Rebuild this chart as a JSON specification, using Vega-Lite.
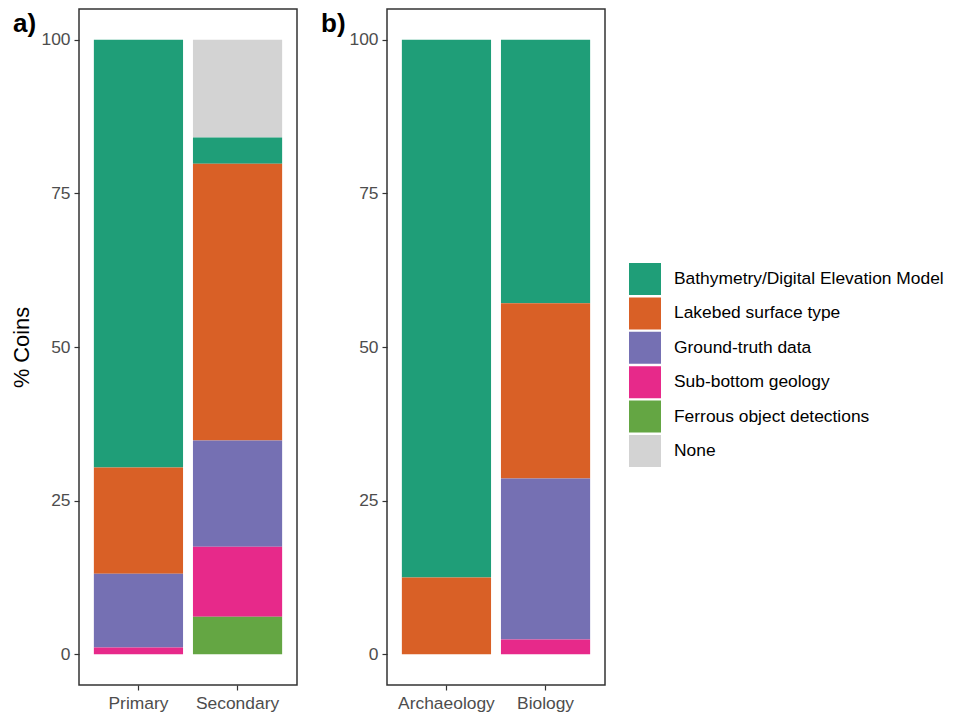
{
  "$schema": "https://vega.github.io/schema/vega-lite/v6.json",
  "background": "white",
  "padding": {"left": 11, "top": 8, "right": 0, "bottom": 0},
  "config": {
    "font": "Liberation Sans",
    "view": {"stroke": "#333333", "strokeWidth": 1.5},
    "axis": {
      "grid": false,
      "domain": false,
      "tickColor": "#333333",
      "tickSize": 5,
      "tickWidth": 1.2,
      "labelColor": "#4D4D4D",
      "labelFontSize": 17.4,
      "labelFont": "Liberation Sans",
      "labelPadding": 4
    },
    "title": {
      "anchor": "start",
      "frame": "group",
      "orient": "top",
      "baseline": "top",
      "offset": 0,
      "dx": -66,
      "dy": 32,
      "fontSize": 26,
      "fontWeight": "bold",
      "color": "black",
      "font": "Liberation Sans"
    }
  },
  "datasets": {
    "byPriority": [
      {"use": "Primary", "layer": "Bathymetry/Digital Elevation Model", "percent": 69.6},
      {"use": "Primary", "layer": "Lakebed surface type", "percent": 17.3},
      {"use": "Primary", "layer": "Ground-truth data", "percent": 12.0},
      {"use": "Primary", "layer": "Sub-bottom geology", "percent": 1.1},
      {"use": "Secondary", "layer": "None", "percent": 15.9},
      {"use": "Secondary", "layer": "Bathymetry/Digital Elevation Model", "percent": 4.3},
      {"use": "Secondary", "layer": "Lakebed surface type", "percent": 45.0},
      {"use": "Secondary", "layer": "Ground-truth data", "percent": 17.3},
      {"use": "Secondary", "layer": "Sub-bottom geology", "percent": 11.4},
      {"use": "Secondary", "layer": "Ferrous object detections", "percent": 6.1}
    ],
    "byDiscipline": [
      {"use": "Archaeology", "layer": "Bathymetry/Digital Elevation Model", "percent": 87.5},
      {"use": "Archaeology", "layer": "Lakebed surface type", "percent": 12.5},
      {"use": "Biology", "layer": "Bathymetry/Digital Elevation Model", "percent": 42.9},
      {"use": "Biology", "layer": "Lakebed surface type", "percent": 28.5},
      {"use": "Biology", "layer": "Ground-truth data", "percent": 26.2},
      {"use": "Biology", "layer": "Sub-bottom geology", "percent": 2.4}
    ]
  },
  "bounds": "flush",
  "spacing": 90,
  "resolve": {"scale": {"color": "shared", "x": "independent", "y": "independent"}},
  "hconcat": [
    {
      "width": 218,
      "height": 676,
      "title": {"text": "a)"},
      "data": {"name": "byPriority"},
      "transform": [
        {"calculate": "indexof(['None', 'Bathymetry/Digital Elevation Model', 'Lakebed surface type', 'Ground-truth data', 'Sub-bottom geology', 'Ferrous object detections'], datum.layer)", "as": "stackRank"}
      ],
      "mark": {"type": "bar"},
      "encoding": {
        "x": {
          "field": "use",
          "type": "nominal",
          "sort": ["Primary", "Secondary"],
          "scale": {"paddingInner": 0.1, "paddingOuter": 0.15},
          "axis": {"title": null, "labelAngle": 0}
        },
        "y": {
          "field": "percent",
          "type": "quantitative",
          "stack": "zero",
          "scale": {"domain": [-5, 105], "nice": false},
          "axis": {
            "title": "% Coins",
            "values": [0, 25, 50, 75, 100],
            "titleFontSize": 21.8,
            "titleFontWeight": "normal",
            "titleColor": "black",
            "titleFont": "Liberation Sans",
            "titlePadding": 7
          }
        },
        "order": {"field": "stackRank", "type": "quantitative", "sort": "descending"},
        "color": {
          "field": "layer",
          "type": "nominal",
          "sort": ["Bathymetry/Digital Elevation Model", "Lakebed surface type", "Ground-truth data", "Sub-bottom geology", "Ferrous object detections", "None"],
          "scale": {
            "domain": ["Bathymetry/Digital Elevation Model", "Lakebed surface type", "Ground-truth data", "Sub-bottom geology", "Ferrous object detections", "None"],
            "range": ["#1F9E78", "#D96026", "#7570B3", "#E7298A", "#64A643", "#D3D3D3"]
          },
          "legend": {
            "title": null,
            "orient": "none",
            "legendX": 550,
            "legendY": 254,
            "padding": 0,
            "symbolType": "square",
            "symbolSize": 1024,
            "symbolStrokeWidth": 0,
            "symbolOpacity": 1,
            "labelFontSize": 17.4,
            "labelFont": "Liberation Sans",
            "labelColor": "black",
            "labelOffset": 13,
            "labelLimit": 400,
            "rowPadding": 2.4
          }
        }
      }
    },
    {
      "width": 218,
      "height": 676,
      "title": {"text": "b)"},
      "data": {"name": "byDiscipline"},
      "transform": [
        {"calculate": "indexof(['None', 'Bathymetry/Digital Elevation Model', 'Lakebed surface type', 'Ground-truth data', 'Sub-bottom geology', 'Ferrous object detections'], datum.layer)", "as": "stackRank"}
      ],
      "mark": {"type": "bar"},
      "encoding": {
        "x": {
          "field": "use",
          "type": "nominal",
          "sort": ["Archaeology", "Biology"],
          "scale": {"paddingInner": 0.1, "paddingOuter": 0.15},
          "axis": {"title": null, "labelAngle": 0}
        },
        "y": {
          "field": "percent",
          "type": "quantitative",
          "stack": "zero",
          "scale": {"domain": [-5, 105], "nice": false},
          "axis": {"title": null, "values": [0, 25, 50, 75, 100]}
        },
        "order": {"field": "stackRank", "type": "quantitative", "sort": "descending"},
        "color": {
          "field": "layer",
          "type": "nominal",
          "sort": ["Bathymetry/Digital Elevation Model", "Lakebed surface type", "Ground-truth data", "Sub-bottom geology", "Ferrous object detections", "None"]
        }
      }
    }
  ]
}
